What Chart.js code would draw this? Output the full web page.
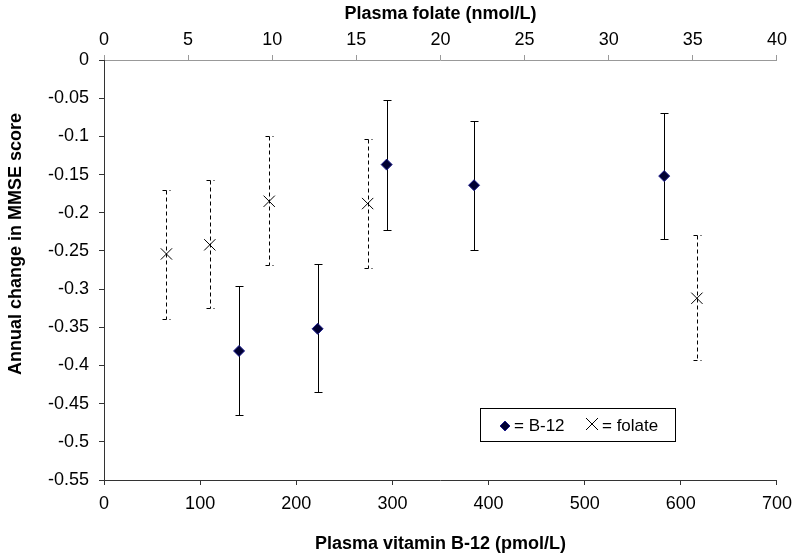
<!DOCTYPE html>
<html>
<head>
<meta charset="utf-8">
<style>
  html, body { margin: 0; padding: 0; background: #fff; }
  #wrap { width: 800px; height: 560px; }
</style>
<script src="https://cdn.jsdelivr.net/npm/chart.js@4/dist/chart.umd.min.js"></script>
</head>
<body>
<div id="wrap"><canvas id="c" width="800" height="560"></canvas></div>
<script>
// B-12 series (bottom axis, pmol/L)
const b12X = [140.5, 222.2, 294, 384.9, 582.7];
const b12Y = [-0.381, -0.352, -0.137, -0.164, -0.152];
const b12Lo = [-0.465, -0.435, -0.222, -0.249, -0.234];
const b12Hi = [-0.296, -0.267, -0.052, -0.080, -0.069];

// Folate series (top axis, nmol/L)
const folX = [3.71, 6.29, 9.82, 15.67, 35.24];
const folY = [-0.254, -0.242, -0.185, -0.188, -0.312];
const folLo = [-0.339, -0.325, -0.269, -0.272, -0.393];
const folHi = [-0.170, -0.157, -0.100, -0.103, -0.229];

const yTicks = [0, -0.05, -0.1, -0.15, -0.2, -0.25, -0.3, -0.35, -0.4, -0.45, -0.5, -0.55];
const b12Ticks = [0, 100, 200, 300, 400, 500, 600, 700];
const folTicks = [0, 5, 10, 15, 20, 25, 30, 35, 40];

const yTitle = 'Annual change in MMSE score';
const legendB12 = '= B-12';
const legendFol = '= folate';

const FONT = "'Liberation Sans', Arial, sans-serif";

const errorBars = {
  id: 'errorBars',
  beforeDatasetsDraw(chart) {
    const ctx = chart.ctx;
    const y = chart.scales.y;
    const draw = (xs, lo, hi, xScale, dashed) => {
      ctx.save();
      ctx.strokeStyle = '#000';
      ctx.lineWidth = 1;
      ctx.setLineDash(dashed ? [4, 3] : []);
      xs.forEach((v, i) => {
        const px = Math.round(xScale.getPixelForValue(v)) + 0.5;
        const pl = Math.round(y.getPixelForValue(lo[i])) + 0.5;
        const ph = Math.round(y.getPixelForValue(hi[i])) + 0.5;
        ctx.beginPath();
        ctx.moveTo(px, ph); ctx.lineTo(px, pl);
        ctx.stroke();
        ctx.beginPath();
        ctx.moveTo(px - 4, ph); ctx.lineTo(px + 4, ph);
        ctx.moveTo(px - 4, pl); ctx.lineTo(px + 4, pl);
        ctx.stroke();
      });
      ctx.restore();
    };
    draw(b12X, b12Lo, b12Hi, chart.scales.x, false);
    draw(folX, folLo, folHi, chart.scales.x2, true);
  }
};

const extras = {
  id: 'extras',
  afterDraw(chart) {
    const ctx = chart.ctx;
    ctx.save();
    // y-axis title
    ctx.save();
    ctx.translate(16.5, 244);
    ctx.rotate(-Math.PI / 2);
    ctx.fillStyle = '#000';
    ctx.font = 'bold 18px ' + FONT;
    ctx.textAlign = 'center';
    ctx.textBaseline = 'middle';
    ctx.fillText(yTitle, 0, 0);
    ctx.restore();
    // legend box
    ctx.strokeStyle = '#000';
    ctx.lineWidth = 1;
    ctx.strokeRect(480.5, 408.5, 195, 33);
    const dx = 505, dy = 426;
    ctx.beginPath();
    ctx.moveTo(dx, dy - 5); ctx.lineTo(dx + 5, dy); ctx.lineTo(dx, dy + 5); ctx.lineTo(dx - 5, dy); ctx.closePath();
    ctx.fillStyle = '#000033'; ctx.fill();
    ctx.strokeStyle = '#1a1a8c'; ctx.stroke();
    const cx = 592, cy = 424;
    ctx.strokeStyle = '#000';
    ctx.beginPath();
    ctx.moveTo(cx - 6, cy - 6); ctx.lineTo(cx + 6, cy + 6);
    ctx.moveTo(cx + 6, cy - 6); ctx.lineTo(cx - 6, cy + 6);
    ctx.stroke();
    ctx.fillStyle = '#000';
    ctx.font = '17px ' + FONT;
    ctx.textBaseline = 'middle';
    ctx.fillText(legendB12, 514, 426);
    ctx.fillText(legendFol, 602, 426);
    ctx.restore();
  }
};

new Chart(document.getElementById('c'), {
  type: 'scatter',
  data: {
    datasets: [
      {
        label: 'B-12',
        data: b12X.map((x, i) => ({ x: x, y: b12Y[i] })),
        xAxisID: 'x',
        pointStyle: 'rectRot',
        pointRadius: 5.5,
        backgroundColor: '#000033',
        borderColor: '#1a1a8c',
        borderWidth: 1
      },
      {
        label: 'folate',
        data: folX.map((x, i) => ({ x: x, y: folY[i] })),
        xAxisID: 'x2',
        pointStyle: 'crossRot',
        pointRadius: 8,
        borderColor: '#000',
        backgroundColor: '#000',
        borderWidth: 1
      }
    ]
  },
  options: {
    responsive: false,
    animation: false,
    layout: { padding: { left: 0, right: 23, top: 0, bottom: 0 } },
    plugins: { legend: { display: false }, tooltip: { enabled: false } },
    scales: {
      x: {
        type: 'linear', position: 'bottom', min: 0, max: 700,
        afterBuildTicks: s => { s.ticks = b12Ticks.map(v => ({ value: v })); },
        afterFit: s => { s.height = 80; },
        grid: { drawOnChartArea: false, drawTicks: true, tickLength: 5, color: '#333' },
        border: { color: '#333', width: 1 },
        ticks: { color: '#000', font: { family: FONT, size: 18 }, padding: 8, maxRotation: 0 },
        title: { display: true, text: 'Plasma vitamin B-12 (pmol/L)', color: '#000',
                 font: { family: FONT, size: 18, weight: 'bold' }, padding: { top: 0, bottom: 5 } }
      },
      x2: {
        type: 'linear', position: 'top', min: 0, max: 40,
        afterBuildTicks: s => { s.ticks = folTicks.map(v => ({ value: v })); },
        afterFit: s => { s.height = 60; },
        grid: { drawOnChartArea: false, drawTicks: true, tickLength: 5, color: '#999' },
        border: { color: '#999', width: 1 },
        ticks: { color: '#000', font: { family: FONT, size: 18 }, padding: 4, maxRotation: 0 },
        title: { display: true, text: 'Plasma folate (nmol/L)', color: '#000',
                 font: { family: FONT, size: 18, weight: 'bold' }, padding: { top: 3, bottom: 0 } }
      },
      y: {
        type: 'linear', position: 'left', min: -0.55, max: 0,
        afterBuildTicks: s => { s.ticks = yTicks.map(v => ({ value: v })); },
        afterFit: s => { s.width = 104; },
        grid: { drawOnChartArea: false, drawTicks: true, tickLength: 5, color: '#333' },
        border: { color: '#333', width: 1 },
        ticks: { color: '#000', font: { family: FONT, size: 18 }, padding: 10,
                 callback: v => (Math.round(v * 100) / 100).toString() },
        title: { display: false }
      }
    }
  },
  plugins: [errorBars, extras]
});
</script>
</body>
</html>
